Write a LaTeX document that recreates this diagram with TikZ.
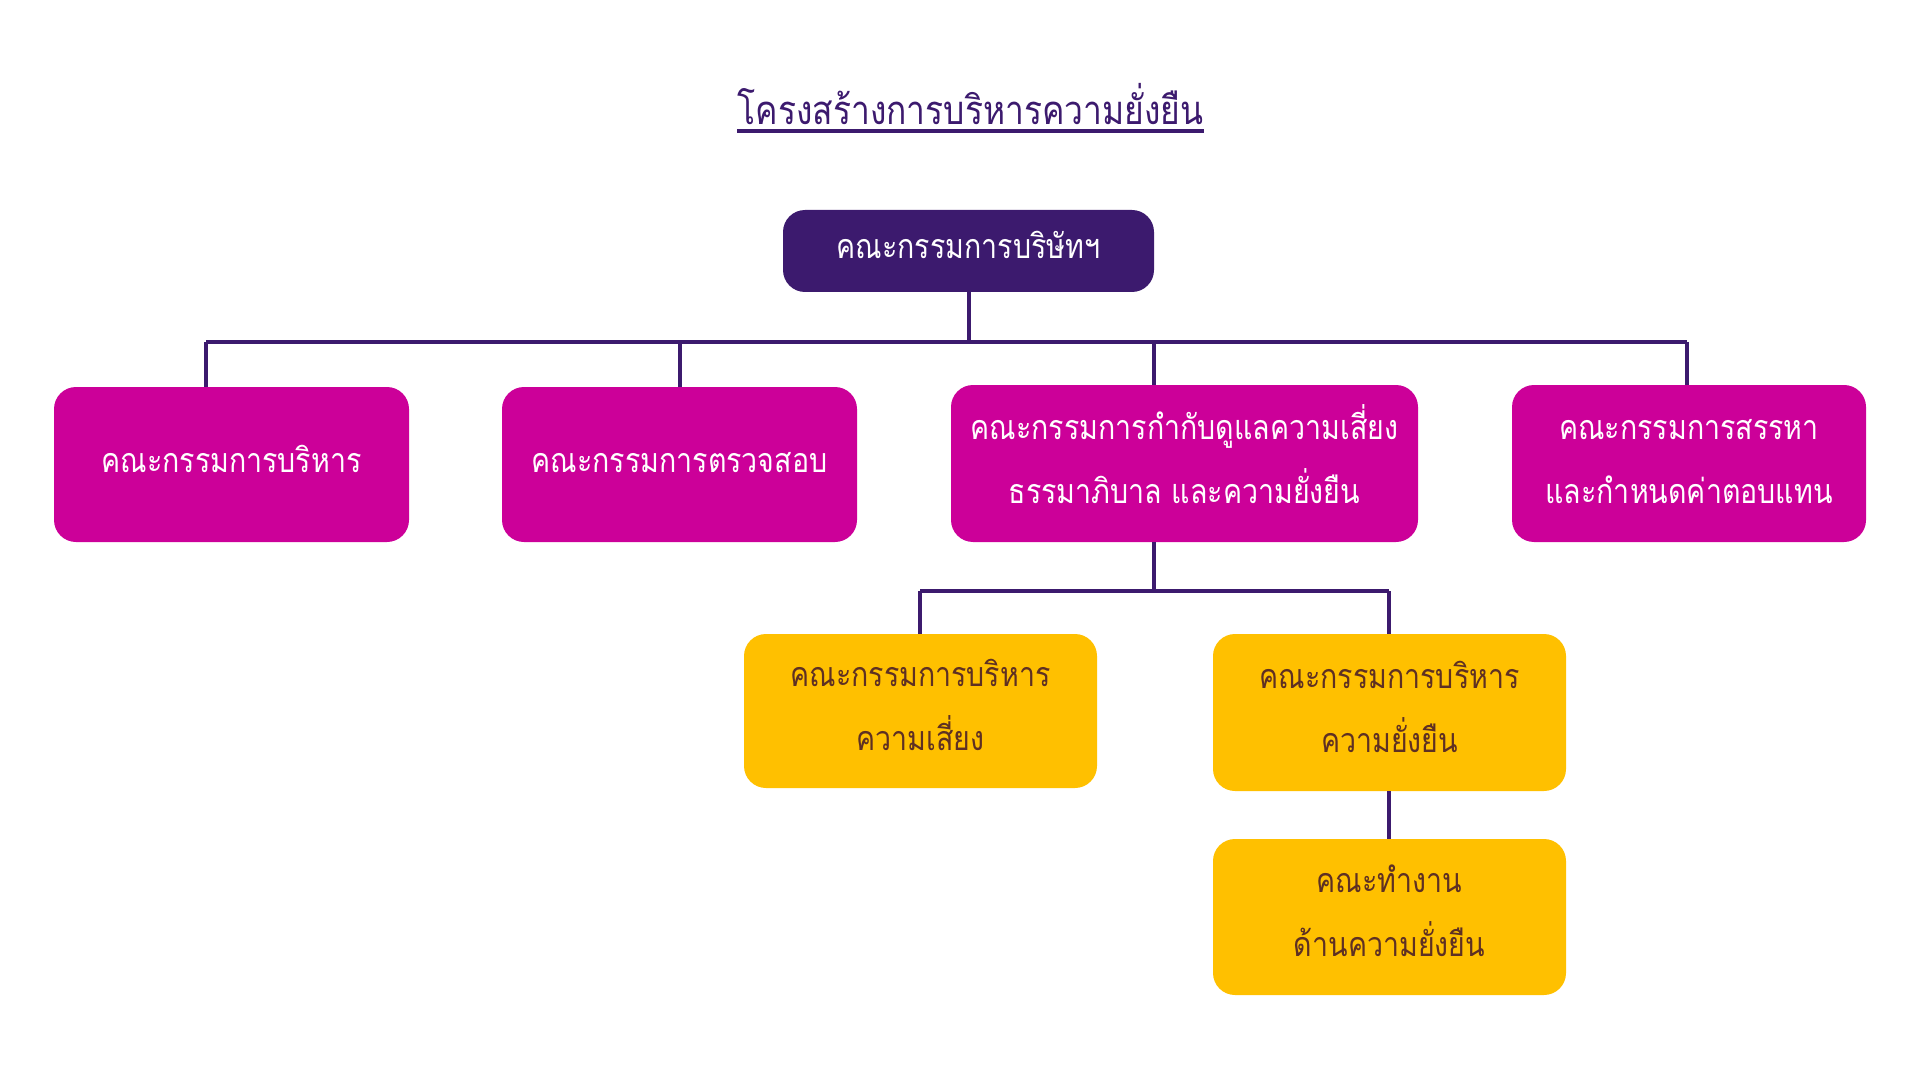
\documentclass[tikz,border=0pt]{standalone}
\usepackage{fontspec}
\newfontfamily\thaifont[Script=Thai,FakeStretch=0.84]{Loma}
\definecolor{dpurple}{HTML}{3C1A6E}
\definecolor{magent}{HTML}{CC0099}
\definecolor{gold}{HTML}{FFC000}
\definecolor{brownt}{HTML}{5E3023}
\newcommand\boxlines[1]{\raisebox{2.6pt}[\height][\depth]{\begin{tabular}{@{}c@{}}#1\end{tabular}}}
\tikzset{
  box/.style={rounded corners=11pt, inner sep=0pt, font=\thaifont\fontsize{17}{32}\selectfont},
  topbox/.style={box, fill=dpurple, text=white},
  magbox/.style={box, fill=magent, text=white},
  goldbox/.style={box, fill=gold, text=brownt},
  conn/.style={draw=dpurple, line width=2pt}
}
\begin{document}
\begin{tikzpicture}[x=0.5pt, y=-0.5pt]
\useasboundingbox (0,0) rectangle (1920,1080);
\node[inner sep=0pt, text=dpurple, font=\thaifont\fontsize{20}{24}\selectfont, anchor=base] (title) at (970.5,125) {โครงสร้างการบริหารความยั่งยืน};
\draw[dpurple, line width=2pt] ([yshift=-3pt]title.base west) -- ([yshift=-3pt]title.base east);

\node[topbox, minimum width=185.5pt, minimum height=41pt] (top) at (968.5,251) {\boxlines{คณะกรรมการบริษัทฯ}};
\node[magbox, minimum width=177.5pt, minimum height=77.5pt] (b1) at (231.5,464.5) {\boxlines{คณะกรรมการบริหาร}};
\node[magbox, minimum width=177.5pt, minimum height=77.5pt] (b2) at (679.5,464.5) {\boxlines{คณะกรรมการตรวจสอบ}};
\node[magbox, minimum width=233.5pt, minimum height=78.5pt] (b3) at (1184.5,463.5) {\boxlines{คณะกรรมการกำกับดูแลความเสี่ยง\\ธรรมาภิบาล และความยั่งยืน}};
\node[magbox, minimum width=177pt, minimum height=78.5pt] (b4) at (1689,463.5) {\boxlines{คณะกรรมการสรรหา\\และกำหนดค่าตอบแทน}};
\node[goldbox, minimum width=176.5pt, minimum height=77pt] (b5) at (920.5,711) {\boxlines{คณะกรรมการบริหาร\\ความเสี่ยง}};
\node[goldbox, minimum width=176.5pt, minimum height=78.5pt] (b6) at (1389.5,712.5) {\boxlines{คณะกรรมการบริหาร\\ความยั่งยืน}};
\node[goldbox, minimum width=176.5pt, minimum height=78pt] (b7) at (1389.5,917) {\boxlines{คณะทำงาน\\ด้านความยั่งยืน}};

\coordinate (busL) at (206,342);
\coordinate (busR) at (1687,342);
\coordinate (bus3) at (1154,342);
\coordinate (sbL) at (920,591);
\coordinate (sbR) at (1389,591);
\draw[conn] (busL) -- (busR);
\draw[conn] (top.south) -- (top.south |- busL);
\draw[conn] (busL) -- (busL |- b1.north);
\draw[conn] (b2.north |- busL) -- (b2.north);
\draw[conn] (bus3) -- (bus3 |- b3.north);
\draw[conn] (busR) -- (busR |- b4.north);
\draw[conn] (bus3 |- b3.south) -- (bus3 |- sbL);
\draw[conn] (sbL) -- (sbR);
\draw[conn] (sbL) -- (sbL |- b5.north);
\draw[conn] (sbR) -- (sbR |- b6.north);
\draw[conn] (b6.south -| sbR) -- (b7.north -| sbR);
\end{tikzpicture}
\end{document}
